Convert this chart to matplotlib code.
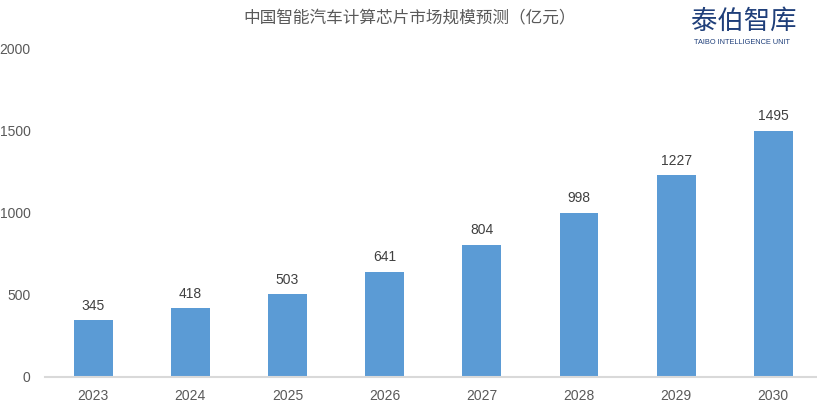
import matplotlib
matplotlib.use("Agg")
import matplotlib.pyplot as plt

# data
years = ["2023", "2024", "2025", "2026", "2027", "2028", "2029", "2030"]
market_size = [345, 418, 503, 641, 804, 998, 1227, 1495]
yticks = [0, 500, 1000, 1500, 2000]

plt.rcParams['font.family'] = ['Liberation Sans', 'Noto Sans CJK SC', 'DejaVu Sans']

W, H = 817, 408
fig = plt.figure(figsize=(W / 100, H / 100), dpi=100)
ax = fig.add_axes([44.5 / W, 31 / H, (817 - 44.5) / W, (377 - 48) / H])

x = list(range(len(years)))
bars = ax.bar(x, market_size, width=0.4, color="#5B9BD5", zorder=2)
for xi, v in zip(x, market_size):
    ax.annotate(str(v), (xi, v), xytext=(0, 5.5), textcoords="offset points",
                ha="center", va="bottom", fontsize=10, color="#404040")

ax.set_xlim(-0.5, 7.45)
ax.set_ylim(0, 2000)
ax.set_xticks(x)
ax.set_xticklabels(years)
ax.set_yticks(yticks)
ax.tick_params(axis="both", length=0, labelsize=10, colors="#595959")
ax.tick_params(axis="x", pad=9)
ax.tick_params(axis="y", pad=10)
for s in ["top", "right", "left"]:
    ax.spines[s].set_visible(False)
ax.spines["bottom"].set_color("#D9D9D9")
ax.spines["bottom"].set_linewidth(1.5)

# title
fig.text(410 / W, 1 - 18 / H, "中国智能汽车计算芯片市场规模预测（亿元）",
         ha="center", va="center", fontsize=12, color="#595959",
         family=['Noto Sans CJK SC', 'DejaVu Sans'])

# logo
fig.text(744 / W, 1 - 21 / H, "泰伯智库", ha="center", va="center",
         fontsize=19, color="#1F3F7A", weight="medium",
         family=['Noto Sans CJK SC', 'DejaVu Sans'])
fig.text(742 / W, 1 - 42 / H, "TAIBO INTELLIGENCE UNIT", ha="center", va="center",
         fontsize=5.3, color="#1F3F7A")

fig.savefig("out.png", dpi=100)
